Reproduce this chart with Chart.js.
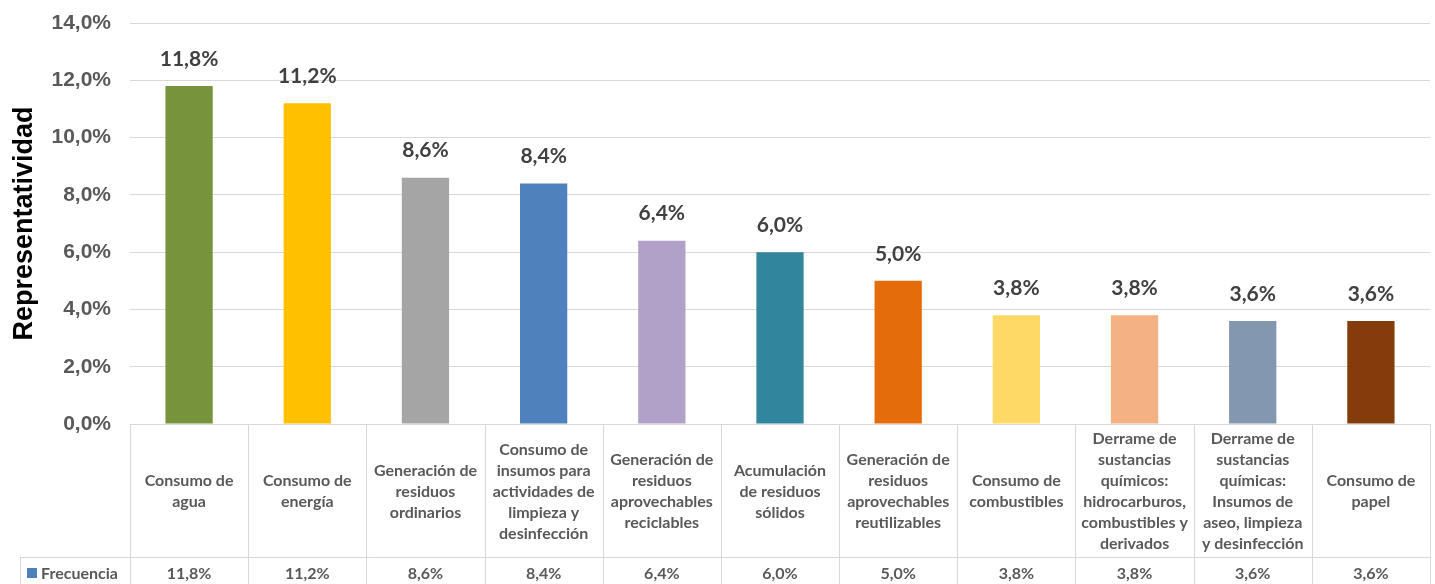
<!DOCTYPE html>
<html>
<head>
<meta charset="utf-8">
<script src="https://cdn.jsdelivr.net/npm/chart.js@4/dist/chart.umd.min.js"></script>
<style>
  html, body { margin: 0; padding: 0; background: #fff; }
  #wrap { width: 1435px; height: 584px; }
</style>
</head>
<body>
<div id="wrap"><canvas id="chart"></canvas></div>
<script>
const categories = [
  ['Consumo de', 'agua'],
  ['Consumo de', 'energía'],
  ['Generación de', 'residuos', 'ordinarios'],
  ['Consumo de', 'insumos para', 'actividades de', 'limpieza y', 'desinfección'],
  ['Generación de', 'residuos', 'aprovechables', 'reciclables'],
  ['Acumulación', 'de residuos', 'sólidos'],
  ['Generación de', 'residuos', 'aprovechables', 'reutilizables'],
  ['Consumo de', 'combustibles'],
  ['Derrame de', 'sustancias', 'químicos:', 'hidrocarburos,', 'combustibles y', 'derivados'],
  ['Derrame de', 'sustancias', 'químicas:', 'Insumos de', 'aseo, limpieza', 'y desinfección'],
  ['Consumo de', 'papel']
];
const frecuencia = [11.8, 11.2, 8.6, 8.4, 6.4, 6.0, 5.0, 3.8, 3.8, 3.6, 3.6];
const barColors = ['#77933C', '#FFC000', '#A5A5A5', '#4F81BD', '#B1A0C7', '#31859C',
                   '#E46C0A', '#FFD966', '#F4B183', '#8497B0', '#843C0C'];
const seriesName = 'Frecuencia';

const fmt = v => v.toFixed(1).replace('.', ',') + '%';
const lineCol = '#D9D9D9';

// value labels above the bars
const barLabels = {
  id: 'barLabels',
  afterDatasetsDraw(chart) {
    const ctx = chart.ctx;
    const meta = chart.getDatasetMeta(0);
    ctx.save();
    ctx.font = 'bold 21px Lato';
    ctx.fillStyle = '#404040';
    ctx.textAlign = 'center';
    ctx.textBaseline = 'middle';
    meta.data.forEach((bar, i) => {
      ctx.fillText(fmt(frecuencia[i]), bar.x, bar.y - 27);
    });
    ctx.restore();
  }
};

// data table under the plot
const dataTable = {
  id: 'dataTable',
  afterDraw(chart) {
    const ctx = chart.ctx;
    const a = chart.chartArea;
    const x = chart.scales.x;
    const n = categories.length;
    const w = (a.right - a.left) / n;
    const top = a.bottom, mid = 557, bot = 600;
    ctx.save();
    ctx.strokeStyle = lineCol;
    ctx.lineWidth = 1;
    ctx.beginPath();
    ctx.moveTo(a.left, top + 0.5); ctx.lineTo(a.right, top + 0.5);
    ctx.moveTo(20, mid + 0.5); ctx.lineTo(a.right, mid + 0.5);
    ctx.moveTo(20.5, mid); ctx.lineTo(20.5, bot);
    for (let i = 0; i <= n; i++) {
      const xx = Math.round(a.left + i * w) + 0.5;
      ctx.moveTo(xx, top); ctx.lineTo(xx, bot);
    }
    ctx.stroke();

    ctx.fillStyle = '#595959';
    ctx.textAlign = 'center';
    ctx.textBaseline = 'middle';
    ctx.font = 'bold 16px Lato';
    const lh = 21;
    categories.forEach((lines, i) => {
      const cx = x.getPixelForValue(i);
      const y0 = (top + mid) / 2 - (lines.length - 1) * lh / 2 + 1;
      lines.forEach((t, j) => ctx.fillText(t, cx, y0 + j * lh));
      ctx.fillText(fmt(frecuencia[i]), cx, 574);
    });

    ctx.fillStyle = '#4F81BD';
    ctx.fillRect(27, 568, 10, 10);
    ctx.fillStyle = '#595959';
    ctx.textAlign = 'left';
    ctx.fillText(seriesName, 41, 574);
    ctx.restore();
  }
};

new Chart(document.getElementById('chart'), {
  type: 'bar',
  data: {
    labels: categories.map(c => c.join(' ')),
    datasets: [{
      label: seriesName,
      data: frecuencia,
      backgroundColor: barColors,
      categoryPercentage: 1,
      barPercentage: 0.4
    }]
  },
  options: {
    responsive: true,
    maintainAspectRatio: false,
    animation: false,
    layout: { padding: { top: 23, right: 5, bottom: 160, left: 0 } },
    plugins: { legend: { display: false }, tooltip: { enabled: false } },
    scales: {
      x: { display: false },
      y: {
        min: 0,
        max: 14,
        ticks: {
          stepSize: 2,
          padding: 19,
          color: '#595959',
          font: { family: 'Liberation Sans', size: 21, weight: 'bold' },
          callback: v => fmt(v)
        },
        grid: { color: lineCol, drawTicks: false },
        border: { display: false },
        title: {
          display: true,
          text: 'Representatividad',
          color: '#000',
          font: { family: 'Liberation Sans', size: 27, weight: 'bold' },
          padding: { top: 8, bottom: 0 }
        },
        afterFit(scale) {
          scale.width = 130;
          scale.paddingTop = 0;
          scale.paddingBottom = 0;
        }
      }
    }
  },
  plugins: [barLabels, dataTable]
});
</script>
</body>
</html>
